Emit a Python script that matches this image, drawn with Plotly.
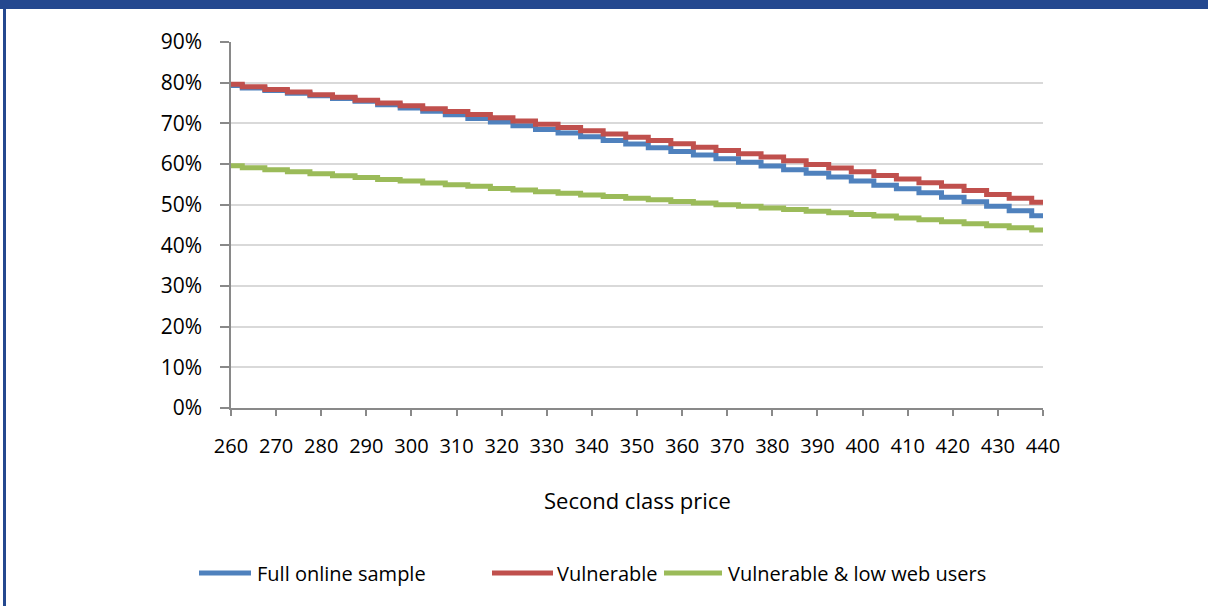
import plotly.graph_objects as go

# Second class price (GBP) sampled every 5 units
price = list(range(260, 445, 5))

full_online = [
    79.3, 78.7, 78.1, 77.4, 76.8, 76.1, 75.4, 74.6, 73.8, 73.0,
    72.1, 71.2, 70.3, 69.4, 68.5, 67.6, 66.7, 65.8, 64.9, 64.0,
    63.1, 62.2, 61.3, 60.4, 59.5, 58.6, 57.7, 56.8, 55.8, 54.8,
    53.9, 52.9, 51.8, 50.7, 49.6, 48.5, 47.3,
]
vulnerable = [
    79.6, 79.0, 78.3, 77.7, 77.0, 76.4, 75.7, 75.0, 74.3, 73.6,
    72.9, 72.2, 71.4, 70.6, 69.8, 69.0, 68.2, 67.4, 66.6, 65.8,
    65.0, 64.1, 63.3, 62.5, 61.7, 60.8, 59.9, 59.0, 58.1, 57.2,
    56.3, 55.4, 54.5, 53.5, 52.5, 51.6, 50.6,
]
vulnerable_low_web = [
    59.6, 59.1, 58.6, 58.1, 57.6, 57.1, 56.7, 56.2, 55.8, 55.3,
    54.9, 54.5, 54.0, 53.6, 53.2, 52.8, 52.4, 52.0, 51.6, 51.2,
    50.8, 50.4, 50.0, 49.6, 49.2, 48.8, 48.4, 48.0, 47.6, 47.2,
    46.7, 46.3, 45.8, 45.3, 44.8, 44.3, 43.8,
]

series_names = ["Full online sample", "Vulnerable", "Vulnerable & low web users"]
series_colors = ["#4F81BD", "#C0504D", "#9BBB59"]
series_values = [full_online, vulnerable, vulnerable_low_web]

y_ticks = [i / 10 for i in range(10)]
x_title = "Second class price"

FONT = "Open Sans"
FRAME = "#24488F"

fig = go.Figure()
for name, color, vals in zip(series_names, series_colors, series_values):
    fig.add_trace(go.Scatter(
        x=price, y=[v / 100 for v in vals], name=name, mode="lines",
        line=dict(color=color, width=5, shape="hvh"),
        showlegend=False, hoverinfo="skip",
    ))

# plot area in pixels: x 231..1043, y 42..408
L, R, T, B = 231, 1043, 42, 408
W, H = R - L, B - T


def px(x):
    return (x - L) / W


def py(y):
    return (B - y) / H


shapes = [
    # dark blue frame: band across the top and bar down the left side
    dict(type="rect", xref="paper", yref="paper", x0=px(0), x1=px(1208),
         y0=py(9), y1=py(0), fillcolor=FRAME, line_width=0, layer="above"),
    dict(type="rect", xref="paper", yref="paper", x0=px(3), x1=px(6),
         y0=py(606), y1=py(9), fillcolor=FRAME, line_width=0, layer="above"),
]
annotations = [
    dict(text=x_title, xref="paper", yref="paper", x=0.5, y=py(500),
         showarrow=False, xanchor="center", yanchor="middle",
         font=dict(family=FONT, size=22, color="#000000")),
]

# legend drawn as line samples with labels underneath the chart
legend_items = [(199, 251, 255), (492, 553, 555), (664, 722, 726)]
for (x0, x1, tx), name, color in zip(legend_items, series_names, series_colors):
    shapes.append(dict(type="line", xref="paper", yref="paper",
                       x0=px(x0), x1=px(x1), y0=py(573), y1=py(573),
                       line=dict(color=color, width=5)))
    annotations.append(dict(text=name, xref="paper", yref="paper",
                            x=px(tx), y=py(573), showarrow=False,
                            xanchor="left", yanchor="middle",
                            font=dict(family=FONT, size=20, color="#000000")))

fig.update_layout(
    width=1208, height=606,
    margin=dict(l=L, r=1208 - R, t=T, b=606 - B),
    paper_bgcolor="white", plot_bgcolor="white",
    font=dict(family=FONT, size=20, color="#000000"),
    shapes=shapes, annotations=annotations,
    showlegend=False,
)
fig.update_xaxes(
    range=[260, 440], tick0=260, dtick=10, tickmode="linear",
    showgrid=False, zeroline=False,
    showline=True, linecolor="#898989", linewidth=1.5,
    ticks="outside", ticklen=6, tickwidth=1.5, tickcolor="#898989",
    ticklabelstandoff=13,
    tickfont=dict(family=FONT, size=20, color="#000000"),
)
fig.update_yaxes(
    range=[0, 0.9], tickvals=y_ticks, tickformat=".0%",
    showgrid=True, gridcolor="#D9D9D9", gridwidth=1.5,
    zeroline=False,
    showline=True, linecolor="#898989", linewidth=1.5,
    ticks="outside", ticklen=9, tickwidth=1.5, tickcolor="#898989",
    ticklabelstandoff=14,
    tickfont=dict(family=FONT, size=21, color="#000000"),
)

fig.write_html("out.html")
